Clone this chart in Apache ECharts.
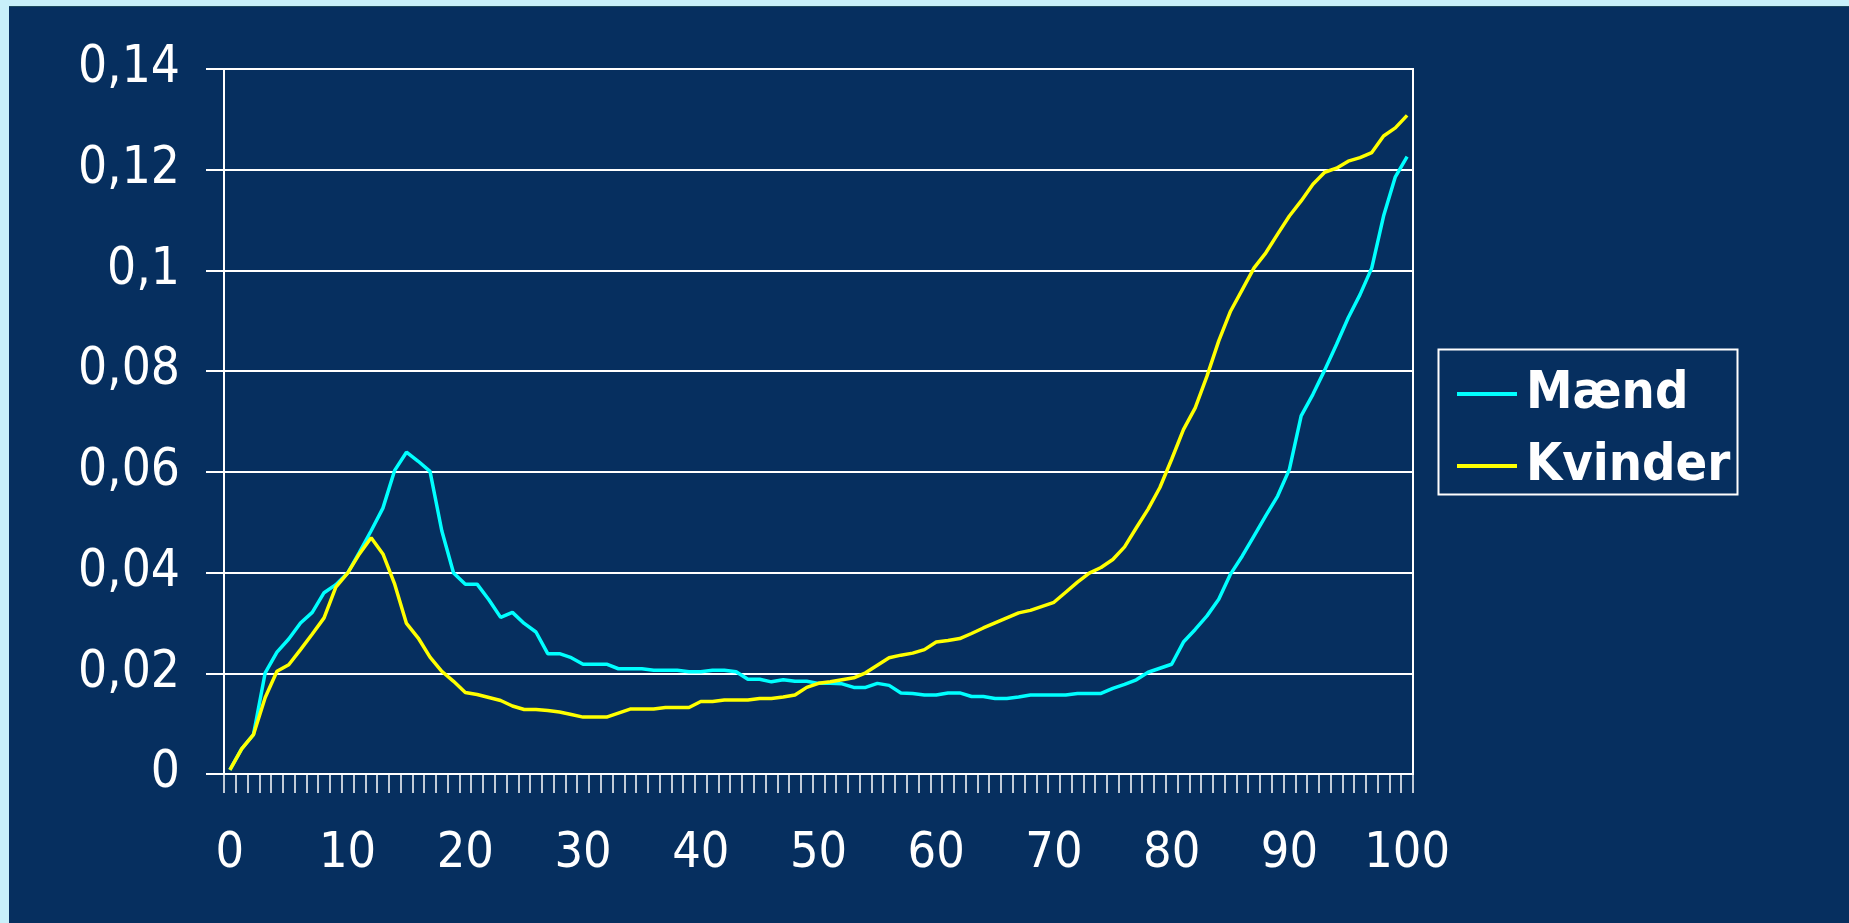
<!DOCTYPE html>
<html>
<head>
<meta charset="utf-8">
<title>Mænd / Kvinder</title>
<script src="https://cdn.jsdelivr.net/npm/echarts@6/dist/echarts.min.js"></script>
<style>
  html, body { margin: 0; padding: 0; width: 1849px; height: 923px; overflow: hidden; background: #c8f0fa; }
  #panel { position: absolute; left: 9px; top: 6px; right: 0; bottom: 0; background: #062f5f; border-top: 1px solid #1c4a5e; }
  #chart { position: absolute; left: 0; top: 0; width: 1849px; height: 923px; }
</style>
</head>
<body>
<div id="panel"></div>
<div id="chart"></div>
<script>
// Age 0..100 on the category axis
const ages = Array.from({ length: 101 }, (_, i) => String(i));

// Mænd
const maend = [
  0.0008, 0.0050, 0.0078, 0.0201, 0.0242, 0.0268, 0.0300, 0.0321, 0.0360, 0.0376,
  0.0399, 0.0440, 0.0483, 0.0528, 0.0603, 0.0639, 0.0621, 0.0601, 0.0483, 0.0399,
  0.0377, 0.0377, 0.0346, 0.0311, 0.0321, 0.0299, 0.0282, 0.0239, 0.0239, 0.0231,
  0.0218, 0.0218, 0.0218, 0.0209, 0.0209, 0.0209, 0.0206, 0.0206, 0.0206, 0.0203,
  0.0203, 0.0206, 0.0206, 0.0203, 0.0188, 0.0188, 0.0183, 0.0187, 0.0184, 0.0184,
  0.0180, 0.0180, 0.0179, 0.0172, 0.0172, 0.0180, 0.0176, 0.0161, 0.0160, 0.0157,
  0.0157, 0.0161, 0.0161, 0.0154, 0.0154, 0.0150, 0.0150, 0.0153, 0.0157, 0.0157,
  0.0157, 0.0157, 0.0160, 0.0160, 0.0160, 0.0170, 0.0178, 0.0187, 0.0202, 0.0210,
  0.0218, 0.0262, 0.0287, 0.0314, 0.0347, 0.0397, 0.0433, 0.0473, 0.0513, 0.0552,
  0.0605, 0.0711, 0.0754, 0.0802, 0.0853, 0.0906, 0.0952, 0.1005, 0.1108, 0.1186,
  0.1226
];

// Kvinder
const kvinder = [
  0.0008, 0.0050, 0.0078, 0.0152, 0.0204, 0.0217, 0.0247, 0.0278, 0.0310, 0.0371,
  0.0399, 0.0437, 0.0469, 0.0437, 0.0377, 0.0299, 0.0270, 0.0232, 0.0204, 0.0184,
  0.0162, 0.0158, 0.0152, 0.0146, 0.0135, 0.0128, 0.0128, 0.0126, 0.0123, 0.0118,
  0.0113, 0.0113, 0.0113, 0.0121, 0.0129, 0.0129, 0.0129, 0.0132, 0.0132, 0.0132,
  0.0144, 0.0144, 0.0147, 0.0147, 0.0147, 0.0150, 0.0150, 0.0153, 0.0157, 0.0172,
  0.0180, 0.0183, 0.0187, 0.0191, 0.0201, 0.0216, 0.0231, 0.0236, 0.0240, 0.0247,
  0.0262, 0.0265, 0.0269, 0.0279, 0.0290, 0.0300, 0.0310, 0.0320, 0.0325, 0.0333,
  0.0341, 0.0361, 0.0381, 0.0399, 0.0410, 0.0426, 0.0451, 0.0489, 0.0526, 0.0569,
  0.0625, 0.0684, 0.0727, 0.0790, 0.0860, 0.0919, 0.0962, 0.1005, 0.1035, 0.1072,
  0.1108, 0.1138, 0.1171, 0.1195, 0.1203, 0.1217, 0.1224, 0.1234, 0.1267, 0.1283,
  0.1308
];

const seriesNames = ['Mænd', 'Kvinder'];
const seriesColors = ['#00ffff', '#ffff00'];

// y ticks 0 .. 0,14 in steps of 0,02 (Danish decimal comma)
const yMin = 0, yMax = 0.14, yStep = 0.02;

const FONT = '"DejaVu Sans Condensed", "DejaVu Sans", sans-serif';
const fmtDa = v => String(+(+v).toFixed(2)).replace('.', ',');

const chart = echarts.init(document.getElementById('chart'), null, { renderer: 'canvas' });
chart.setOption({
  animation: false,
  backgroundColor: 'transparent',
  grid: {
    left: 224, right: 436, top: 69, bottom: 149,
    show: true, borderColor: '#ffffff', borderWidth: 2, backgroundColor: 'transparent'
  },
  xAxis: {
    type: 'category',
    data: ages,
    boundaryGap: true,
    axisLine: { lineStyle: { color: '#ffffff', width: 2 } },
    axisTick: { show: true, interval: 0, length: 19, lineStyle: { color: '#ffffff', width: 1.5 } },
    axisLabel: {
      interval: 9, margin: 55, color: '#ffffff', fontFamily: FONT,
      fontSize: 50, lineHeight: 50
    },
    splitLine: { show: false }
  },
  yAxis: {
    type: 'value',
    min: yMin, max: yMax, interval: yStep,
    axisLine: { show: true, lineStyle: { color: '#ffffff', width: 2 } },
    axisTick: { show: true, length: 18, lineStyle: { color: '#ffffff', width: 2 } },
    axisLabel: {
      margin: 44, color: '#ffffff', fontFamily: FONT, fontSize: 51,
      formatter: fmtDa
    },
    splitLine: { show: true, lineStyle: { color: '#ffffff', width: 2 } }
  },
  legend: {
    orient: 'vertical',
    left: 1452, top: 363,
    icon: 'rect', itemWidth: 60, itemHeight: 4, itemGap: 20,
    data: seriesNames,
    textStyle: {
      color: '#ffffff', fontFamily: FONT, fontWeight: 'bold',
      fontSize: 52, lineHeight: 51, padding: [0, 0, 0, 4]
    }
  },
  graphic: [{
    type: 'rect',
    left: 1436, top: 347,
    shape: { width: 299, height: 145 },
    style: { fill: 'none', stroke: '#ffffff', lineWidth: 2 },
    silent: true
  }],
  series: [
    {
      name: seriesNames[0], type: 'line', data: maend,
      showSymbol: false, symbol: 'none',
      color: seriesColors[0],
      lineStyle: { color: seriesColors[0], width: 3.5 }
    },
    {
      name: seriesNames[1], type: 'line', data: kvinder,
      showSymbol: false, symbol: 'none',
      color: seriesColors[1],
      lineStyle: { color: seriesColors[1], width: 3.5 }
    }
  ]
});
</script>
</body>
</html>
